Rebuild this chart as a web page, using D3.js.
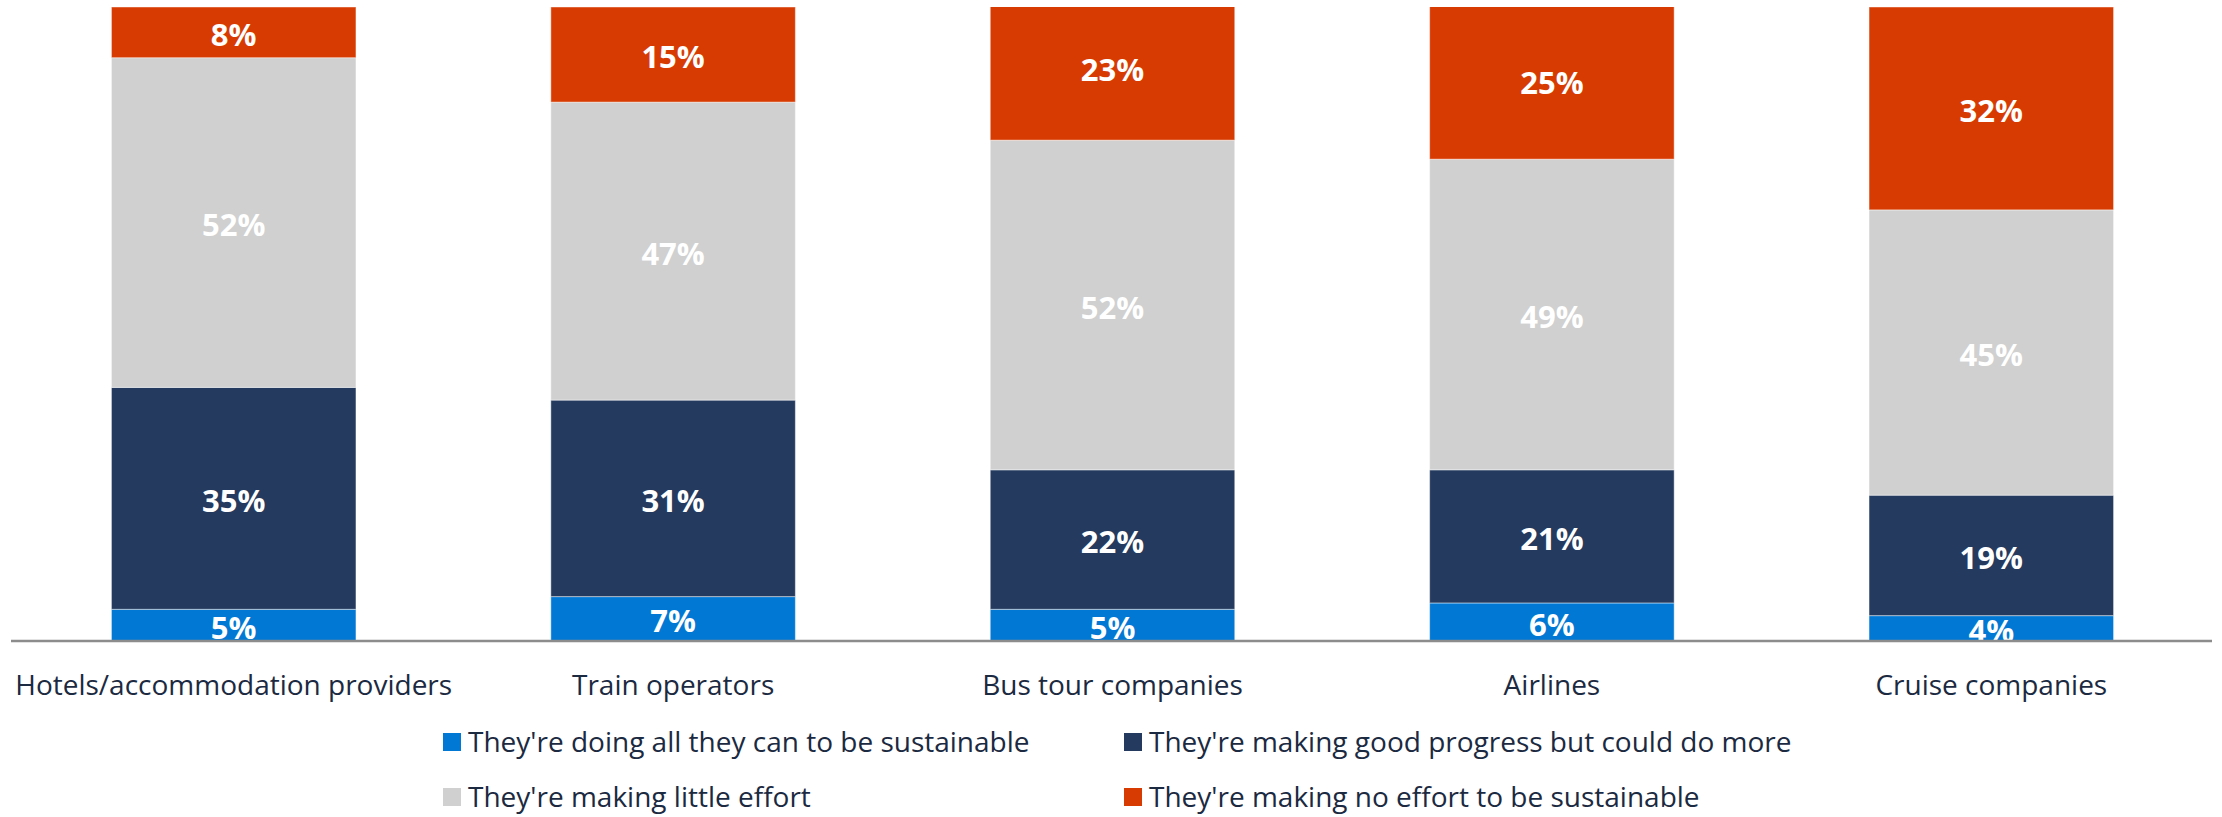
<!DOCTYPE html>
<html>
<head>
<meta charset="utf-8">
<script src="https://cdn.jsdelivr.net/npm/d3@7"></script>
<style>
  html, body { margin: 0; padding: 0; background: #ffffff; }
  svg { display: block; }
  text { font-family: "Open Sans", "Noto Sans", sans-serif; }
</style>
</head>
<body>
<svg id="chart" width="2222" height="817"></svg>
<script>
// Perceived sustainability effort by travel sector (% of respondents)
const categories = [
  "Hotels/accommodation providers",
  "Train operators",
  "Bus tour companies",
  "Airlines",
  "Cruise companies"
];
const seriesNames = [
  "They're doing all they can to be sustainable",
  "They're making good progress but could do more",
  "They're making little effort",
  "They're making no effort to be sustainable"
];
const doingAll      = [5, 7, 5, 6, 4];
const goodProgress  = [35, 31, 22, 21, 19];
const littleEffort  = [52, 47, 52, 49, 45];
const noEffort      = [8, 15, 23, 25, 32];
const seriesColors  = ["#0078d4", "#243a5e", "#d0d0d0", "#d83b01"];
const yTicks = [0, 100];

const seriesValues = [doingAll, goodProgress, littleEffort, noEffort];
const keys = ["s0", "s1", "s2", "s3"];
const rows = categories.map((c, i) => {
  const r = { category: c };
  keys.forEach((k, j) => { r[k] = seriesValues[j][i]; });
  return r;
});

const svg = d3.select("#chart");
const plot = { left: 14, right: 2211, top: 7, bottom: 641 };

const x = d3.scaleBand()
  .domain(categories)
  .range([plot.left, plot.right])
  .paddingInner(0.4435)
  .paddingOuter(0.22175);

const y = d3.scaleLinear()
  .domain(d3.extent(yTicks))
  .range([plot.bottom, plot.top]);

const stacked = d3.stack().keys(keys)(rows);

// Value axis stops at 100%, so taller stacks are clipped at the top
svg.append("defs").append("clipPath").attr("id", "plot-clip")
  .append("rect")
  .attr("x", 0).attr("y", y(100))
  .attr("width", 2222).attr("height", y(0) - y(100));

const bars = svg.append("g").attr("clip-path", "url(#plot-clip)");

bars.selectAll("g.series")
  .data(stacked)
  .join("g")
  .attr("class", "series")
  .attr("fill", (d, i) => seriesColors[i])
  .selectAll("rect")
  .data(d => d)
  .join("rect")
  .attr("x", d => x(d.data.category))
  .attr("width", x.bandwidth())
  .attr("y", d => y(d[1]))
  .attr("height", d => y(d[0]) - y(d[1]))
  .attr("stroke", "rgba(255,255,255,0.45)")
  .attr("stroke-width", 1);

// Data labels centred on each segment
const labels = svg.append("g");
stacked.forEach((s) => {
  labels.selectAll(null)
    .data(s)
    .join("text")
    .attr("x", d => x(d.data.category) + x.bandwidth() / 2)
    .attr("y", d => y((d[0] + d[1]) / 2))
    .attr("dy", "0.44em")
    .attr("text-anchor", "middle")
    .attr("fill", "#ffffff")
    .attr("font-weight", 700)
    .attr("font-size", 31)
    .text(d => (d[1] - d[0]) + "%");
});

// Category axis
const xAxis = svg.append("g")
  .attr("transform", `translate(0,${plot.bottom})`)
  .call(d3.axisBottom(x).tickSize(0).tickPadding(34));
xAxis.select(".domain")
  .attr("d", `M11,0H2212`)
  .attr("stroke", "#8c8c8c")
  .attr("stroke-width", 2.5);
xAxis.selectAll(".tick text")
  .attr("font-family", "\"Open Sans\", \"Noto Sans\", sans-serif")
  .attr("font-size", 28)
  .attr("fill", "#1b2a41")
  .attr("dy", "0.71em");

// Legend, two columns by two rows
const legendCols = [443, 1124];
const legendRows = [742, 797];
const legend = svg.append("g");
seriesNames.forEach((name, i) => {
  const lx = legendCols[i % 2];
  const ly = legendRows[Math.floor(i / 2)];
  const g = legend.append("g").attr("transform", `translate(${lx},${ly})`);
  g.append("rect")
    .attr("x", 0).attr("y", -9)
    .attr("width", 18).attr("height", 18)
    .attr("fill", seriesColors[i]);
  g.append("text")
    .attr("x", 25).attr("y", 0)
    .attr("dy", "0.34em")
    .attr("font-size", 28)
    .attr("fill", "#1b2a41")
    .text(name);
});
</script>
</body>
</html>
